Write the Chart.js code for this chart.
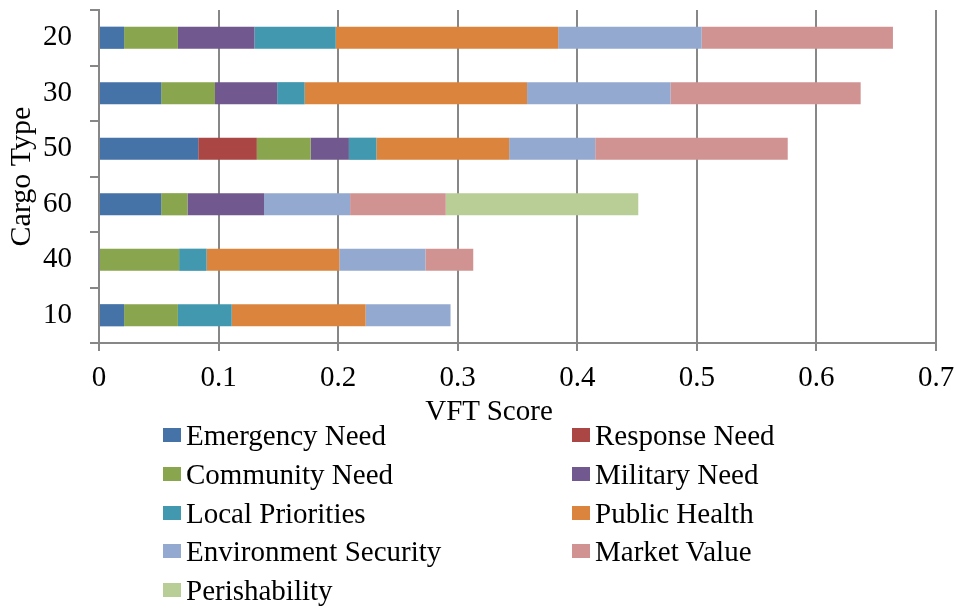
<!DOCTYPE html>
<html>
<head>
<meta charset="utf-8">
<script src="https://cdn.jsdelivr.net/npm/chart.js@4.4.3/dist/chart.umd.min.js"></script>
<style>
  html, body { margin: 0; padding: 0; background: #fff; }
  #wrap { position: relative; width: 956px; height: 609px; }
  #overlay { position: absolute; left: 0; top: 0; width: 956px; height: 609px; pointer-events: none;
    font-family: 'Liberation Serif', 'Times New Roman', serif; font-size: 29px; color: #000; }
  .lg-item { position: absolute; display: flex; align-items: center; white-space: nowrap; height: 30px; line-height: 30px; }
  .lg-box { width: 18px; height: 14px; margin-right: 5px; }
  #xTitle { position: absolute; left: 0; width: 978px; text-align: center; top: 396px; line-height: 29px; }
</style>
</head>
<body>
<div id="wrap">
  <canvas id="chart" width="956" height="609"></canvas>
  <div id="overlay"><div id="xTitle"></div></div>
</div>
<script>
// categories, top to bottom
const cargoTypes = ['20', '30', '50', '60', '40', '10'];

const emergencyNeed   = [0.021, 0.052, 0.083, 0.052, 0,     0.021];
const responseNeed    = [0,     0,     0.049, 0,     0,     0];
const communityNeed   = [0.045, 0.045, 0.045, 0.022, 0.067, 0.045];
const militaryNeed    = [0.064, 0.052, 0.032, 0.064, 0,     0];
const localPriorities = [0.068, 0.023, 0.023, 0,     0.023, 0.045];
const publicHealth    = [0.186, 0.186, 0.111, 0,     0.111, 0.112];
const envSecurity     = [0.120, 0.120, 0.072, 0.072, 0.072, 0.071];
const marketValue     = [0.160, 0.159, 0.161, 0.080, 0.040, 0];
const perishability   = [0,     0,     0,     0.161, 0,     0];

const xTicks = [0, 0.1, 0.2, 0.3, 0.4, 0.5, 0.6, 0.7];
const xTitle = 'VFT Score';
const yTitle = 'Cargo Type';

const series = [
  { label: 'Emergency Need', data: emergencyNeed, color: '#4572A7' },
  { label: 'Response Need', data: responseNeed, color: '#AA4643' },
  { label: 'Community Need', data: communityNeed, color: '#89A54E' },
  { label: 'Military Need', data: militaryNeed, color: '#71588F' },
  { label: 'Local Priorities', data: localPriorities, color: '#4198AF' },
  { label: 'Public Health', data: publicHealth, color: '#DB843D' },
  { label: 'Environment Security', data: envSecurity, color: '#93A9CF' },
  { label: 'Market Value', data: marketValue, color: '#D19392' },
  { label: 'Perishability', data: perishability, color: '#B9CD96' }
];

const serif = "'Liberation Serif', 'Times New Roman', serif";
const gridGray = '#878787';

new Chart(document.getElementById('chart'), {
  type: 'bar',
  data: {
    labels: cargoTypes,
    datasets: series.map(s => ({
      label: s.label,
      data: s.data,
      backgroundColor: s.color,
      borderWidth: 0,
      barPercentage: 0.4,
      categoryPercentage: 1
    }))
  },
  options: {
    indexAxis: 'y',
    responsive: false,
    animation: false,
    layout: { padding: { left: 0, right: 20, top: 10, bottom: 176 } },
    plugins: { legend: { display: false }, tooltip: { enabled: false } },
    scales: {
      x: {
        stacked: true,
        min: 0,
        max: 0.7,
        afterBuildTicks: axis => { axis.ticks = xTicks.map(v => ({ value: v })); },
        afterFit: axis => { axis.height = 90; axis.paddingLeft = 0; axis.paddingRight = 0; },
        grid: { color: gridGray, lineWidth: 2, tickLength: 8, drawTicks: true },
        border: { color: gridGray, width: 2 },
        ticks: {
          color: '#000', padding: 10, maxRotation: 0,
          font: { family: serif, size: 29 },
          callback: v => String(v)
        }
      },
      y: {
        stacked: true,
        afterFit: axis => { axis.width = 99; axis.paddingTop = 0; axis.paddingBottom = 0; },
        grid: { display: true, drawOnChartArea: false, drawTicks: true, tickLength: 9, color: gridGray, lineWidth: 2, offset: true },
        border: { color: gridGray, width: 2 },
        ticks: { color: '#000', padding: 18, font: { family: serif, size: 29 } },
        title: {
          display: true, text: yTitle, color: '#000',
          font: { family: serif, size: 30 }, padding: { top: 4, bottom: 0 }
        }
      }
    }
  }
});

document.getElementById('xTitle').textContent = xTitle;

// two-column legend below the chart
const overlay = document.getElementById('overlay');
const colX = [163, 572];
const rowY = [435, 474, 513, 551, 590];
series.forEach((s, i) => {
  const item = document.createElement('div');
  item.className = 'lg-item';
  item.style.left = colX[i % 2] + 'px';
  item.style.top = (rowY[Math.floor(i / 2)] - 15) + 'px';
  item.innerHTML = `<span class="lg-box" style="background:${s.color}"></span><span>${s.label}</span>`;
  overlay.appendChild(item);
});
</script>
</body>
</html>
